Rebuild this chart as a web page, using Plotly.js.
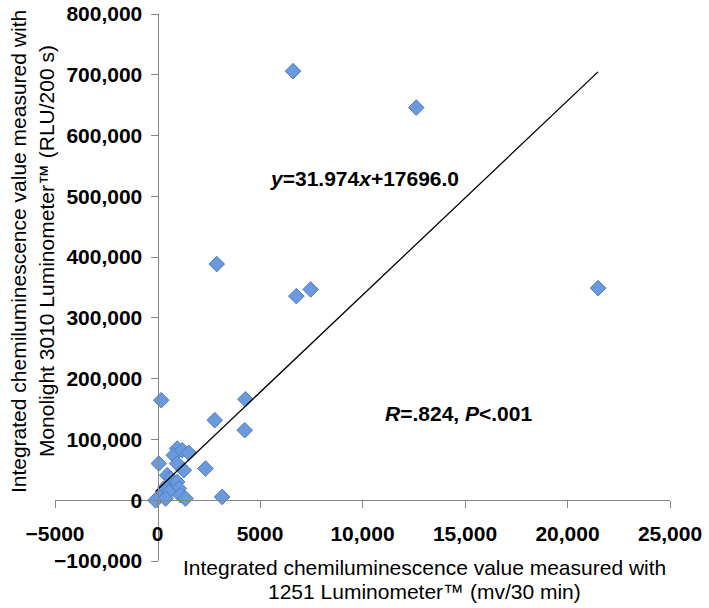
<!DOCTYPE html>
<html>
<head>
<meta charset="utf-8">
<script src="https://cdn.plot.ly/plotly-3.0.1.min.js"></script>
<style>html,body{margin:0;padding:0;background:#fff;}#chart{width:709px;height:608px;}</style>
</head>
<body>
<div id="chart"></div>
<script>
// Data
const luminometer1251 = [6613, 12621, 21490, 2890, 6774, 7472, 180, 4288, 2794, 4255, 3151,
  65, 958, 796, 1202, 1527, 2339, 958, 1283, 472, 633, 958, 390, 1040, 552, 1120, 65, 1364, -100, 390];
const monolight3010 = [706000, 646000, 349000, 388500, 335800, 346800, 164600, 166200, 131700, 115200, 5400,
  60400, 85000, 74000, 82300, 77900, 52200, 60400, 49400, 41100, 35700, 30100, 21900, 19300, 13700, 8200, 5400, 2800, 0, 2800];
const slope = 31.974;
const intercept = 17696.0;
const xTickVals = [-5000, 0, 5000, 10000, 15000, 20000, 25000];
const xTickText = ['\u22125000', '0', '5000', '10,000', '15,000', '20,000', '25,000'];
const yTickVals = [-100000, 0, 100000, 200000, 300000, 400000, 500000, 600000, 700000, 800000];
const yTickText = ['\u2212100,000', '0', '100,000', '200,000', '300,000', '400,000', '500,000', '600,000', '700,000', '800,000'];
const xRange = [-5000, 25000];
const yRange = [-100000, 800000];

const xMin = Math.min(...luminometer1251);
const xMax = Math.max(...luminometer1251);

const font = 'Liberation Sans, Arial, sans-serif';
const axisColor = '#868686';

const traces = [
  {
    type: 'scatter', mode: 'markers',
    x: luminometer1251, y: monolight3010,
    marker: {symbol: 'diamond', size: 12, color: '#6A99DC', line: {color: '#4C7DC6', width: 1}},
    hoverinfo: 'x+y', showlegend: false
  },
  {
    type: 'scatter', mode: 'lines',
    x: [xMin, xMax], y: [slope * xMin + intercept, slope * xMax + intercept],
    line: {color: '#000000', width: 1.3},
    hoverinfo: 'skip', showlegend: false
  }
];

const xAxisPos = (0 - yRange[0]) / (yRange[1] - yRange[0]);
const yAxisPos = (0 - xRange[0]) / (xRange[1] - xRange[0]);

const layout = {
  width: 709, height: 608,
  margin: {l: 54.5, r: 39, t: 14, b: 47},
  paper_bgcolor: '#ffffff', plot_bgcolor: '#ffffff',
  font: {family: font, color: '#000000'},
  xaxis: {
    range: xRange, anchor: 'free', position: xAxisPos,
    showgrid: false, zeroline: false, showline: true, linecolor: axisColor, linewidth: 1,
    ticks: 'outside', ticklen: 7, tickcolor: axisColor, tickwidth: 1,
    tickvals: xTickVals, ticktext: xTickText,
    tickfont: {family: font, size: 21, weight: 'bold', color: '#000'},
    ticklabelstandoff: 8, automargin: false
  },
  yaxis: {
    range: yRange, anchor: 'free', position: yAxisPos,
    showgrid: false, zeroline: false, showline: true, linecolor: axisColor, linewidth: 1,
    ticks: 'outside', ticklen: 7, tickcolor: axisColor, tickwidth: 1,
    tickvals: yTickVals, ticktext: yTickText,
    tickfont: {family: font, size: 21, weight: 'bold', color: '#000'},
    ticklabelstandoff: 4, automargin: false
  },
  annotations: [
    {xref: 'x', yref: 'y', x: 10111, y: 530000, showarrow: false,
     text: '<b><i>y</i>=31.974<i>x</i>+17696.0</b>', font: {family: font, size: 21, color: '#000'}},
    {xref: 'x', yref: 'y', x: 14668, y: 143200, showarrow: false,
     text: '<b><i>R</i>=.824, <i>P</i>&lt;.001</b>', font: {family: font, size: 21, color: '#000'}},
    {xref: 'paper', yref: 'paper', x: 0.601, y: -0.012, yanchor: 'middle', xanchor: 'center', showarrow: false,
     text: 'Integrated chemiluminescence value measured with', font: {family: font, size: 21, color: '#000'}},
    {xref: 'paper', yref: 'paper', x: 0.601, y: -0.056, yanchor: 'middle', xanchor: 'center', showarrow: false,
     text: '1251 Luminometer\u2122 (mv/30 min)', font: {family: font, size: 21, color: '#000'}},
    {xref: 'paper', yref: 'paper', x: -0.059, y: 0.566, textangle: -90, xanchor: 'center', yanchor: 'middle', showarrow: false,
     text: 'Integrated chemiluminescence value measured with', font: {family: font, size: 21, color: '#000'}},
    {xref: 'paper', yref: 'paper', x: -0.0135, y: 0.566, textangle: -90, xanchor: 'center', yanchor: 'middle', showarrow: false,
     text: 'Monolight 3010 Luminometer\u2122 (RLU/200 s)', font: {family: font, size: 21, color: '#000'}}
  ]
};

Plotly.newPlot('chart', traces, layout, {displayModeBar: false, staticPlot: true});
</script>
</body>
</html>
